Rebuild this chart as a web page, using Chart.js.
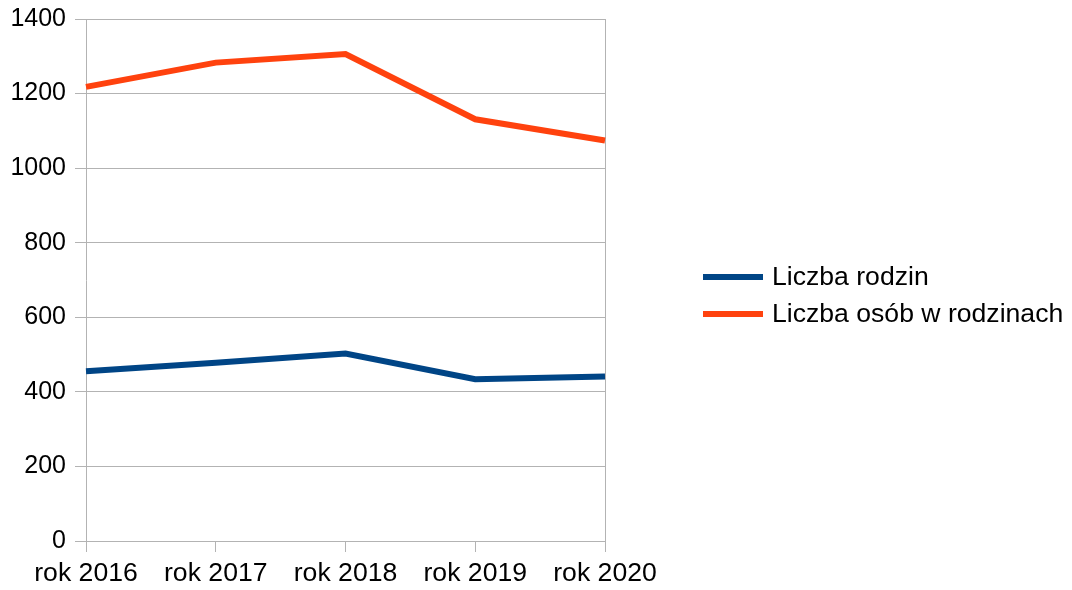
<!DOCTYPE html>
<html>
<head>
<meta charset="utf-8">
<script src="https://cdn.jsdelivr.net/npm/chart.js@4/dist/chart.umd.min.js"></script>
<style>
  html, body { margin: 0; padding: 0; background: #fff; }
  #wrap { width: 1072px; height: 590px; position: relative; }
</style>
</head>
<body>
<div id="wrap"><canvas id="chart" width="1072" height="590"></canvas></div>
<script>
/* data */
const years = ['rok 2016', 'rok 2017', 'rok 2018', 'rok 2019', 'rok 2020'];
const families = [455, 478, 503, 434, 441];
const persons = [1218, 1283, 1306, 1131, 1074];
const seriesNames = ['Liczba rodzin', 'Liczba osób w rodzinach'];
const seriesColors = ['#004586', '#ff420e'];
const yTicks = [0, 200, 400, 600, 800, 1000, 1200, 1400];

const FONT = "'Liberation Sans', Arial, sans-serif";
const FSIZE = 26.6;
const GRID = '#b3b3b3';

/* legend drawn at the right, like the office chart */
const sideLegend = {
    id: 'sideLegend',
    afterDraw(chart) {
        const c = chart.ctx;
        c.save();
        c.font = FSIZE + 'px ' + FONT;
        c.textBaseline = 'middle';
        chart.data.datasets.forEach((ds, i) => {
            const y = 277 + i * 37;
            c.strokeStyle = ds.borderColor;
            c.lineWidth = 6;
            c.beginPath();
            c.moveTo(703, y);
            c.lineTo(763, y);
            c.stroke();
            c.fillStyle = '#000';
            c.fillText(ds.label, 772, y + 1);
        });
        c.restore();
    }
};

new Chart(document.getElementById('chart'), {
    type: 'line',
    data: {
        labels: years,
        datasets: [
            { label: seriesNames[0], data: families, borderColor: seriesColors[0], backgroundColor: seriesColors[0] },
            { label: seriesNames[1], data: persons, borderColor: seriesColors[1], backgroundColor: seriesColors[1] }
        ]
    },
    options: {
        responsive: false,
        animation: false,
        layout: { padding: { top: 19, right: 467, left: 0, bottom: 0 } },
        elements: { line: { borderWidth: 6, tension: 0, borderCapStyle: 'butt' }, point: { radius: 0 } },
        plugins: { legend: { display: false }, tooltip: { enabled: false } },
        scales: {
            x: {
                offset: false,
                grid: {
                    tickLength: 11,
                    tickColor: GRID,
                    color: c => c.index === years.length - 1 ? GRID : 'rgba(0,0,0,0)'
                },
                border: { color: GRID },
                ticks: { color: '#000', font: { family: FONT, size: FSIZE }, padding: 6, maxRotation: 0, autoSkip: false },
                afterFit: s => { s.height = 49; }
            },
            y: {
                min: 0, max: 1400,
                afterBuildTicks: s => { s.ticks = yTicks.map(v => ({ value: v })); },
                grid: { color: GRID, tickLength: 11 },
                border: { color: GRID },
                ticks: { color: '#000', font: { family: FONT, size: 25 }, padding: 9, callback: v => String(v) },
                afterFit: s => { s.width = 86; s.paddingTop = 0; s.paddingBottom = 0; }
            }
        }
    },
    plugins: [sideLegend]
});
</script>
</body>
</html>
